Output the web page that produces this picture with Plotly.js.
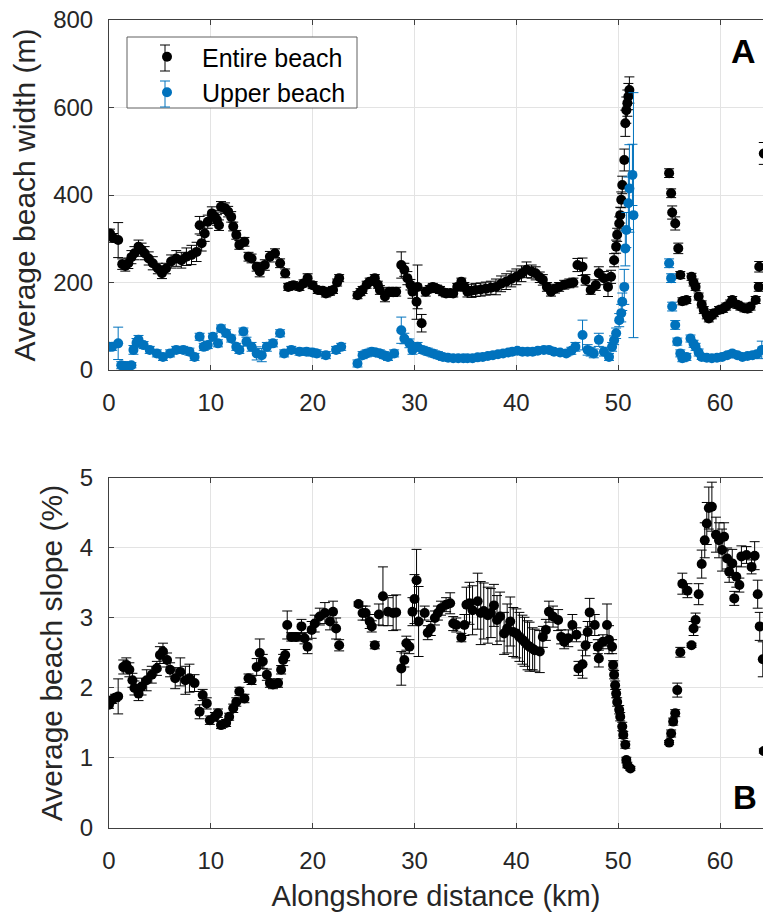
<!DOCTYPE html>
<html>
<head>
<meta charset="utf-8">
<script src="https://cdn.plot.ly/plotly-3.0.1.min.js"></script>
<style>html,body{margin:0;padding:0;overflow:hidden;background:#fff}#chart{width:763px;height:917px}</style>
</head>
<body>
<div id="chart"></div>
<script>
// ---- Panel A: average beach width (m), entire beach ----
const entireWidthKm = [
 0.1,0.4,0.9,1.3,1.6,1.9,2.2,2.5,2.9,3.2,
 3.5,3.9,4.3,4.8,5.2,5.6,6.1,6.6,7.1,7.6,
 8.1,8.6,8.9,9.1,9.4,9.7,10.1,10.4,10.6,10.8,
 11.0,11.4,11.7,12.0,12.2,12.5,12.8,13.3,13.7,14.0,
 14.5,14.8,15.3,15.8,16.3,16.8,17.3,17.6,18.1,18.7,
 19.1,19.5,20.0,20.5,21.0,21.3,21.7,22.0,22.4,22.6,
 24.4,24.7,24.9,25.3,25.6,26.1,26.4,26.6,27.1,27.5,
 27.9,28.2,28.7,29.0,29.3,29.6,29.8,30.2,30.3,30.7,
 31.1,31.5,31.8,32.2,32.5,32.8,33.1,33.5,33.8,34.2,
 34.6,34.9,35.2,35.6,36.0,36.5,37.0,37.5,38.0,38.5,
 39.0,39.5,40.0,40.5,41.0,41.5,41.9,42.3,42.6,43.0,
 43.4,43.8,44.2,44.7,45.2,45.6,46.0,46.5,46.8,47.3,
 47.8,48.1,48.6,49.0,49.3,49.6,49.8,49.9,50.1,50.2,
 50.3,50.4,50.6,50.7,50.8,50.9,51.0,51.1,
 55.0,55.2,55.3,55.6,55.9,56.1,56.3,56.7,57.2,57.4,
 57.6,57.9,58.2,58.4,58.7,58.9,59.2,59.4,59.9,60.3,
 60.6,61.0,61.2,61.7,62.0,62.4,62.7,63.0,63.5,63.8,
 63.85,64.3];
const entireWidth = [
 312,302,297,242,238,244,258,267,282,275,
 267,255,244,232,221,232,248,255,251,259,
 263,270,331,290,312,339,358,350,343,331,
 373,370,362,350,328,309,286,293,259,255,
 236,225,240,259,267,244,221,190,194,190,
 198,210,194,183,181,175,179,183,200,210,
 171,178,183,195,202,210,195,183,168,179,
 178,179,240,229,210,195,179,156,190,107,
 179,185,190,186,183,178,175,176,175,190,
 202,190,179,181,183,184,186,188,190,197,
 202,208,213,220,229,225,221,212,206,190,
 179,186,190,195,198,200,240,236,206,183,
 194,221,210,190,213,251,282,309,335,354,
 389,423,480,564,594,610,625,640,
 450,404,360,335,278,217,157,160,213,200,
 190,168,150,137,125,118,125,130,137,140,
 145,152,160,149,145,141,140,145,160,190,
 236,495];
const entireWidthErr = [
 10,10,40,12,12,12,15,15,15,15,
 15,15,15,12,12,12,15,18,18,20,
 22,22,20,18,18,15,15,15,12,12,
 12,12,12,12,10,10,10,10,10,10,
 10,12,12,12,10,10,10,8,8,8,
 8,10,8,8,8,8,8,8,8,8,
 8,8,8,8,8,8,8,10,12,10,
 10,10,30,15,15,12,15,40,50,20,
 10,8,8,8,8,8,8,8,8,8,
 8,10,12,15,15,15,15,15,18,18,
 18,18,18,18,18,15,15,12,12,10,
 10,10,10,10,10,10,15,20,12,10,
 12,15,15,22,15,15,15,15,15,18,
 18,20,25,30,30,30,30,30,
 10,10,15,15,12,8,8,8,8,8,
 8,8,8,8,8,8,8,8,8,8,
 8,8,8,8,8,8,8,8,8,10,
 12,25];

// ---- Panel A: average beach width (m), upper beach ----
const upperWidthKm = [
 0.0,0.3,0.9,1.2,1.5,1.8,2.2,2.4,2.7,2.9,
 3.4,4.0,4.7,5.3,6.0,6.6,7.3,7.9,8.4,8.9,
 9.3,9.7,10.2,10.7,11.0,11.5,12.0,12.5,12.8,13.2,
 13.5,14.0,14.5,15.0,15.5,16.1,16.8,17.2,17.9,18.7,
 19.4,20.0,20.4,21.3,22.3,22.8,24.4,24.9,25.3,25.8,
 26.2,26.6,27.0,27.4,28.0,28.7,29.0,29.5,29.8,30.3,
 30.8,31.3,31.8,32.3,32.8,33.3,33.8,34.3,34.8,35.2,
 35.7,36.2,36.7,37.2,37.7,38.2,38.7,39.2,39.6,40.1,
 40.6,41.1,41.6,42.1,42.7,43.2,43.7,44.3,44.9,45.4,
 45.8,46.5,47.0,47.3,47.6,48.1,48.6,49.1,49.4,49.6,
 49.8,50.1,50.3,50.4,50.6,50.7,50.8,51.0,51.1,51.4,
 51.5,55.0,55.2,55.3,55.6,55.8,56.1,56.3,56.7,57.1,
 57.4,57.6,57.9,58.2,58.7,59.2,59.7,60.2,60.7,61.2,
 61.7,62.2,62.7,63.2,63.6,64.1];
const upperWidth = [
 53,53,61,11,9,9,11,46,62,69,
 57,46,38,30,38,46,46,42,30,76,
 53,57,76,61,95,84,72,53,46,88,
 65,53,38,34,53,61,84,38,46,42,
 42,40,38,34,46,53,15,34,38,42,
 40,38,34,30,38,91,72,61,46,53,
 46,42,38,34,30,28,27,27,27,27,
 27,29,30,32,34,36,38,40,42,44,
 42,42,42,44,46,46,42,40,38,44,
 53,80,46,42,38,69,42,30,53,68,
 84,114,130,156,190,278,320,381,415,446,
 354,244,210,145,103,65,38,27,30,72,
 60,53,40,30,28,27,28,30,34,38,
 34,30,32,34,36,46];
const upperWidthErr = [
 8,8,37,8,6,6,6,10,10,10,
 8,8,8,8,8,8,8,8,8,8,
 8,8,8,8,8,8,8,8,8,8,
 10,10,15,15,10,8,8,8,8,8,
 8,8,8,8,8,8,8,8,8,8,
 8,8,8,8,8,30,12,10,10,10,
 8,8,8,8,8,6,6,6,6,6,
 6,6,6,6,6,6,6,6,6,6,
 6,6,6,6,6,6,6,6,6,8,
 10,34,12,10,10,15,10,8,10,10,
 12,15,20,20,40,40,40,60,100,70,
 280,10,10,10,10,8,8,8,8,8,
 8,8,8,6,6,6,6,6,6,6,
 6,6,6,6,6,20];

// ---- Panel B: average beach slope (%), entire beach ----
const slopeKm = [
 0.0,0.3,0.6,0.9,1.4,1.7,2.0,2.3,2.5,2.9,
 3.2,3.7,4.2,4.7,5.0,5.3,5.7,6.0,6.5,7.0,
 7.5,7.9,8.4,8.9,9.2,9.6,9.9,10.4,10.7,11.0,
 11.5,11.8,12.2,12.5,12.8,13.3,13.7,14.0,14.5,14.8,
 15.1,15.5,15.8,16.1,16.6,16.9,17.1,17.3,17.5,17.9,
 18.4,18.9,19.2,19.5,19.9,20.2,20.7,21.2,21.7,22.0,
 22.3,22.6,24.5,24.9,25.2,25.6,25.8,26.1,26.5,26.9,
 27.4,27.9,28.2,28.7,29.0,29.2,29.5,29.8,30.0,30.2,
 30.4,31.0,31.3,31.6,32.0,32.3,32.6,33.1,33.5,33.8,
 34.1,34.6,34.9,35.1,35.4,35.7,36.2,36.5,36.8,37.2,
 37.5,37.8,38.1,38.4,38.8,39.1,39.4,39.7,40.0,40.3,
 40.6,40.8,41.1,41.3,41.6,41.8,42.3,42.6,42.9,43.2,
 43.6,44.1,44.4,44.7,45.1,45.5,45.9,46.1,46.5,46.8,
 47.0,47.2,47.7,48.0,48.1,48.5,48.9,49.1,49.4,49.5,
 49.6,49.7,49.8,49.9,50.1,50.2,50.4,50.5,50.7,50.8,
 50.9,51.2,55.0,55.2,55.4,55.6,55.8,56.1,56.3,56.8,
 57.2,57.4,57.6,57.9,58.2,58.5,58.7,58.9,59.2,59.6,
 59.9,60.2,60.4,60.7,60.9,61.2,61.4,61.6,61.9,62.1,
 62.6,63.1,63.4,63.7,63.9,64.2,64.3];
const slope = [
 1.76,1.83,1.86,1.88,2.30,2.33,2.26,2.11,2.00,1.92,
 2.02,2.11,2.19,2.28,2.47,2.52,2.40,2.26,2.14,2.23,
 2.11,2.14,2.07,1.66,1.90,1.78,1.54,1.59,1.64,1.47,
 1.50,1.59,1.71,1.80,1.95,1.85,2.14,2.11,2.30,2.50,
 2.38,2.19,2.07,2.05,2.07,2.26,2.40,2.47,2.90,2.73,
 2.73,2.88,2.71,2.59,2.83,2.92,3.02,3.07,2.95,3.09,
 2.85,2.61,3.20,3.07,3.07,2.95,2.88,2.61,3.05,3.31,
 3.09,3.07,3.08,2.28,2.40,2.64,2.59,3.09,3.27,3.54,
 2.95,3.07,2.79,2.85,3.00,3.07,3.14,3.19,3.21,2.92,
 2.90,2.72,2.90,3.19,3.21,3.11,3.24,3.07,3.10,3.04,
 3.07,3.18,2.97,3.02,2.78,2.85,2.95,2.80,2.78,2.73,
 2.69,2.66,2.61,2.59,2.56,2.54,2.52,2.73,2.83,3.09,
 3.02,2.97,2.73,2.66,2.71,2.90,2.76,2.28,2.34,2.61,
 2.80,3.08,2.90,2.59,2.42,2.66,2.90,2.69,2.59,2.33,
 2.19,2.04,1.92,1.80,1.69,1.59,1.45,1.33,1.19,0.97,
 0.90,0.85,1.22,1.35,1.52,1.64,1.97,2.51,3.49,3.39,
 2.61,2.85,2.97,3.34,3.77,4.11,4.35,4.57,4.59,4.19,
 4.11,3.97,4.16,3.85,3.66,3.78,3.28,3.59,3.47,3.88,
 3.90,3.73,3.89,3.34,2.88,2.41,1.10];
const slopeErr = [
 .05,.05,.05,.25,.1,.1,.1,.1,.1,.1,
 .12,.15,.12,.1,.12,.12,.1,.1,.15,.2,
 .2,.2,.12,.1,.08,.08,.06,.06,.06,.05,
 .05,.05,.06,.06,.06,.06,.06,.06,.12,.2,
 .1,.08,.06,.06,.06,.06,.08,.08,.2,.06,
 .06,.1,.08,.1,.12,.12,.12,.15,.12,.15,
 .15,.08,.03,.1,.1,.1,.08,.05,.15,.42,
 .2,.25,.25,.24,.1,.1,.1,.2,.35,.44,
 .5,.1,.1,.1,.1,.1,.1,.1,.15,.1,
 .1,.06,.15,.25,.3,.35,.4,.45,.4,.4,
 .35,.3,.35,.35,.3,.35,.35,.35,.35,.35,
 .35,.35,.35,.35,.3,.3,.3,.15,.15,.15,
 .15,.15,.1,.1,.12,.15,.1,.1,.2,.15,
 .15,.2,.15,.1,.12,.1,.3,.2,.1,.06,
 .06,.06,.06,.06,.06,.06,.06,.05,.05,.04,
 .04,.03,.03,.05,.05,.05,.1,.07,.15,.1,
 .03,.1,.1,.15,.2,.25,.3,.3,.35,.25,
 .25,.3,.2,.15,.15,.2,.1,.15,.1,.15,
 .12,.1,.2,.2,.2,.25,.03];

const xTicks = [0,10,20,30,40,50,60];
const seriesNames = ['Entire beach','Upper beach'];

const BLACK = '#000000', BLUE = '#0072BD';
const FONT = 'Arial, "Liberation Sans", Helvetica, sans-serif';
const TXT = '#262626', AX = '#404040', GRID = '#e3e3e3';

function pts(x, y, e, color, name, xa, ya, show) {
  return {
    type: 'scatter', mode: 'markers', x: x, y: y, name: name,
    xaxis: xa, yaxis: ya, showlegend: show, cliponaxis: true,
    marker: {color: color, size: 10, line: {width: 0}},
    error_y: {type: 'data', array: e, visible: true, color: color, thickness: 1, width: 5}
  };
}

const data = [
  pts(entireWidthKm, entireWidth, entireWidthErr, BLACK, seriesNames[0], 'x', 'y', true),
  pts(upperWidthKm, upperWidth, upperWidthErr, BLUE, seriesNames[1], 'x', 'y', true),
  pts(slopeKm, slope, slopeErr, BLACK, seriesNames[0], 'x2', 'y2', false)
];

function xax(anchor, withTitle) {
  const a = {
    anchor: anchor, domain: [0, 1], range: [0, 64.22], tickvals: xTicks,
    ticks: 'inside', ticklen: 5, tickcolor: AX, showline: true, linecolor: AX, linewidth: 1,
    mirror: 'ticks', showgrid: true, gridcolor: GRID, zeroline: false,
    tickfont: {family: FONT, size: 24, color: TXT}, ticklabelstandoff: 11
  };
  if (withTitle) a.title = {text: 'Alongshore distance (km)', font: {family: FONT, size: 29, color: TXT}, standoff: 12};
  return a;
}
function yax(anchor, dom, rng, dt, title) {
  return {
    anchor: anchor, domain: dom, range: rng, dtick: dt,
    ticks: 'inside', ticklen: 5, tickcolor: AX, showline: true, linecolor: AX, linewidth: 1,
    mirror: false, showgrid: true, gridcolor: GRID, zeroline: false,
    tickfont: {family: FONT, size: 24, color: TXT}, ticklabelstandoff: 10,
    title: {text: title, font: {family: FONT, size: 30, color: TXT}, standoff: 8}
  };
}

// legend frame + error-bar glyphs (paper coordinates; px -> paper helpers)
const PX = px => (px - 109) / 654;
const PY = py => (828 - py) / 808;
function legendBar(cx, cy, color) {
  return [
    {type: 'line', xref: 'paper', yref: 'paper', x0: PX(cx), x1: PX(cx), y0: PY(cy - 13), y1: PY(cy + 13), line: {color: color, width: 1}, layer: 'above'},
    {type: 'line', xref: 'paper', yref: 'paper', x0: PX(cx - 5), x1: PX(cx + 5), y0: PY(cy - 13), y1: PY(cy - 13), line: {color: color, width: 1}, layer: 'above'},
    {type: 'line', xref: 'paper', yref: 'paper', x0: PX(cx - 5), x1: PX(cx + 5), y0: PY(cy + 13), y1: PY(cy + 13), line: {color: color, width: 1}, layer: 'above'}
  ];
}

const layout = {
  width: 763, height: 917,
  margin: {l: 109, r: 0, t: 20, b: 89},
  paper_bgcolor: '#ffffff', plot_bgcolor: '#ffffff',
  font: {family: FONT, color: TXT},
  xaxis: xax('y', false),
  yaxis: yax('x', [0.5668, 1], [0, 800], 200, 'Average beach width (m)'),
  xaxis2: xax('y2', true),
  yaxis2: yax('x2', [0, 0.4332], [0, 5], 1, 'Average beach slope (%)'),
  showlegend: true,
  legend: {
    x: PX(132), y: PY(34), xanchor: 'left', yanchor: 'top',
    bgcolor: 'rgba(0,0,0,0)', borderwidth: 0,
    font: {family: FONT, size: 25, color: '#000'}, itemwidth: 60, tracegroupgap: 0
  },
  shapes: [
    {type: 'rect', xref: 'paper', yref: 'paper', x0: PX(127), x1: PX(357), y0: PY(108), y1: PY(37),
     fillcolor: '#ffffff', line: {color: '#606060', width: 1}, layer: 'above'}
  ].concat(legendBar(165, 58, BLACK), legendBar(165, 94, BLUE)),
  annotations: [
    {text: '<b>A</b>', xref: 'paper', yref: 'paper', x: 0.97, y: 0.962, xanchor: 'center', yanchor: 'middle',
     showarrow: false, font: {family: FONT, size: 34, color: '#000'}},
    {text: '<b>B</b>', xref: 'paper', yref: 'paper', x: 0.972, y: 0.038, xanchor: 'center', yanchor: 'middle',
     showarrow: false, font: {family: FONT, size: 33, color: '#000'}}
  ]
};

Plotly.newPlot('chart', data, layout, {staticPlot: true, displayModeBar: false});
</script>
</body>
</html>
